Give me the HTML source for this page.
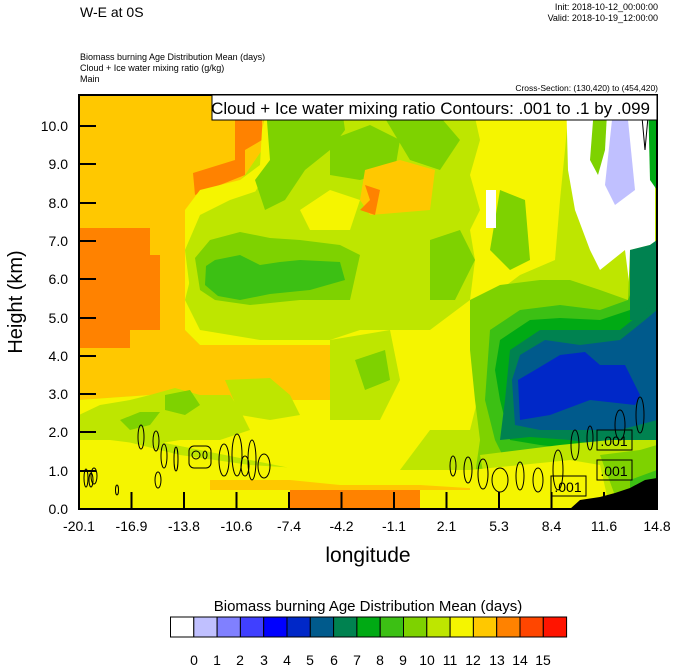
<!DOCTYPE html>
<html><head><meta charset="utf-8"><style>
body{margin:0;background:#fff;width:674px;height:667px;overflow:hidden}
svg{display:block;font-family:"Liberation Sans",sans-serif}
</style></head><body>
<svg width="674" height="667" viewBox="0 0 674 667">
<defs><clipPath id="c"><rect x="79" y="95" width="578" height="414"/></clipPath></defs>
<text x="80" y="17" font-size="14">W-E at 0S</text>
<text x="658" y="10" font-size="9" text-anchor="end">Init: 2018-10-12_00:00:00</text>
<text x="658" y="21" font-size="9" text-anchor="end">Valid: 2018-10-19_12:00:00</text>
<text x="80" y="60" font-size="9">Biomass burning Age Distribution Mean    (days)</text>
<text x="80" y="71" font-size="9">Cloud + Ice water mixing ratio    (g/kg)</text>
<text x="80" y="82" font-size="9">Main</text>
<text x="658" y="91" font-size="8.5" text-anchor="end">Cross-Section: (130,420) to (454,420)</text>
<g clip-path="url(#c)">
<rect x="79" y="95" width="578" height="414" fill="#bee600"/>
<!-- left warm region -->
<polygon points="79,95 265,95 262,150 245,175 220,200 190,210 185,250 185,330 200,345 330,345 330,400 240,400 200,395 150,395 79,400" fill="#ffc800"/>
<polygon points="79,228 150,228 150,255 160,255 160,330 130,330 130,348 79,348" fill="#ff8200"/>
<polygon points="235,95 262,95 262,140 245,150 245,175 195,195 193,173 235,160" fill="#ff8200"/>
<!-- yellow -->
<polygon points="185,210 200,190 240,180 260,165 262,130 270,95 280,95 275,160 250,200 215,225 190,240 195,260 185,300 200,330 260,340 330,340 360,330 430,330 470,300 475,260 470,230 480,210 470,175 480,140 470,95 570,95 565,150 560,200 555,260 520,275 500,290 480,320 480,390 470,430 430,430 400,470 300,470 250,460 200,450 150,440 120,430 79,430 79,400 150,395 200,395 240,400 330,400 330,345 200,345 185,330" fill="#f5f500"/>
<polygon points="79,430 79,509 570,509 560,470 470,470 420,470 330,470 250,465 180,455 120,440" fill="#f5f500"/>
<polygon points="210,490 555,490 555,470 510,470 500,490 420,485 340,485 290,480 210,480" fill="#ffc800"/>
<polygon points="290,490 420,490 420,509 290,509" fill="#ff8200"/>
<polygon points="79,490 200,490 200,509 79,509" fill="#f5f500"/>
<!-- lower left greens -->
<polygon points="79,415 100,405 130,400 150,395 175,388 200,395 230,395 240,410 250,430 220,440 180,440 150,445 110,440 90,440 79,440" fill="#bee600"/>
<polygon points="120,420 140,412 160,412 150,425 130,430" fill="#7ed200"/>
<polygon points="165,395 190,390 200,405 185,415 165,410" fill="#7ed200"/>
<polygon points="225,380 270,378 290,395 300,415 270,420 240,415" fill="#bee600"/>
<polygon points="330,340 390,330 400,380 380,420 330,420" fill="#bee600"/>
<!-- central green blob -->
<polygon points="185,250 200,215 230,200 260,190 300,205 340,215 370,230 395,250 380,320 340,330 300,330 250,322 210,310 190,290" fill="#bee600"/>
<polygon points="195,258 210,240 240,232 270,238 300,240 340,245 360,255 350,300 300,300 250,305 215,300 200,290" fill="#7ed200"/>
<polygon points="206,266 215,260 240,255 260,265 280,262 300,260 340,262 345,280 310,290 270,294 240,300 218,296 205,285" fill="#3cc014"/>
<!-- upper green -->
<polygon points="265,95 340,95 345,130 330,150 305,170 285,200 265,210 255,180 270,160" fill="#7ed200"/>
<polygon points="330,140 370,125 400,140 395,170 360,180 330,175" fill="#7ed200"/>
<polygon points="380,110 430,105 460,140 440,170 410,160" fill="#7ed200"/>
<polygon points="365,170 400,160 435,170 430,210 370,215 360,200" fill="#ffc800"/>
<polygon points="360,210 370,200 365,185 380,190 375,215" fill="#ff8200"/>
<polygon points="300,210 330,190 360,200 350,230 310,230" fill="#f5f500"/>
<polygon points="430,240 460,230 475,260 455,300 430,300" fill="#7ed200"/>
<polygon points="500,190 525,200 530,260 510,270 490,250" fill="#7ed200"/>
<polygon points="355,360 385,350 390,380 365,390" fill="#7ed200"/>
<rect x="486" y="190" width="10" height="38" fill="#fff"/>
<!-- top right -->
<polygon points="566,95 655,95 655,300 630,290 625,250 600,270 590,250 575,210 568,170" fill="#fff"/>
<polygon points="595,95 608,95 605,150 598,175 590,160" fill="#7ed200"/>
<polygon points="612,120 628,120 635,190 615,205 605,185" fill="#c0c0ff"/>
<polygon points="648,95 657,95 657,190 650,180" fill="#00aa14"/>
<!-- right deep region -->
<polygon points="470,300 500,285 540,280 570,280 600,290 628,300 630,250 650,245 657,240 657,509 470,509 480,440 475,400 470,350" fill="#7ed200"/>
<polygon points="490,330 520,310 560,305 600,310 628,300 640,270 657,260 657,509 500,509 505,460 495,440 485,400" fill="#3cc014"/>
<polygon points="500,340 530,320 560,318 600,320 630,310 657,300 657,450 630,455 580,450 540,445 510,440 500,400 495,370" fill="#00aa14"/>
<polygon points="630,250 650,245 657,240 657,320 630,320" fill="#008250"/>
<polygon points="510,350 540,330 580,330 620,330 645,310 657,300 657,440 620,448 570,440 530,437 500,440 505,400" fill="#008250"/>
<polygon points="520,355 545,340 580,345 620,340 645,320 657,310 657,420 620,430 580,430 540,430 515,425 512,380" fill="#005a8c"/>
<polygon points="535,370 560,355 585,352 600,365 625,365 640,395 635,405 590,400 550,415 520,420 518,380" fill="#0028c8"/>
<polygon points="480,455 560,445 610,440 657,440 657,509 490,509" fill="#bee600"/>
<polygon points="470,470 570,460 600,465 610,509 470,509" fill="#f5f500"/>
<polygon points="600,455 640,450 657,445 657,509 620,509" fill="#7ed200"/>
<polygon points="630,480 657,470 657,509 630,509" fill="#3cc014"/>
<polygon points="570,509 580,500 600,497 615,493 630,488 645,480 657,478 657,509" fill="#000"/>
</g>
<!-- contours -->
<g fill="none" stroke="#000" stroke-width="1">
<ellipse cx="141" cy="437" rx="3" ry="12"/><ellipse cx="156" cy="441" rx="3" ry="10"/>
<ellipse cx="164" cy="456" rx="3" ry="12"/><ellipse cx="158" cy="480" rx="3" ry="8"/>
<ellipse cx="176" cy="459" rx="2" ry="12"/><rect x="189" y="446" width="22" height="22" rx="5"/>
<ellipse cx="196" cy="455" rx="4" ry="4"/><ellipse cx="205" cy="455" rx="2" ry="4"/>
<ellipse cx="224" cy="460" rx="5" ry="16"/><ellipse cx="237" cy="455" rx="5" ry="21"/>
<ellipse cx="245" cy="466" rx="4" ry="10"/><ellipse cx="252" cy="460" rx="4" ry="20"/>
<ellipse cx="264" cy="466" rx="6" ry="12"/><ellipse cx="86" cy="478" rx="2" ry="9"/><ellipse cx="94" cy="476" rx="3" ry="8"/>
<ellipse cx="117" cy="490" rx="1.5" ry="5"/><ellipse cx="91" cy="480" rx="2" ry="7"/>
<ellipse cx="453" cy="466" rx="3" ry="10"/><ellipse cx="468" cy="470" rx="4" ry="13"/>
<ellipse cx="483" cy="474" rx="5" ry="15"/><ellipse cx="500" cy="480" rx="8" ry="12"/>
<ellipse cx="520" cy="476" rx="4" ry="14"/><ellipse cx="538" cy="480" rx="5" ry="12"/>
<ellipse cx="558" cy="470" rx="5" ry="20"/><ellipse cx="575" cy="445" rx="4" ry="15"/>
<ellipse cx="590" cy="438" rx="3" ry="12"/><ellipse cx="620" cy="425" rx="5" ry="15"/>
<ellipse cx="640" cy="415" rx="4" ry="18"/><path d="M640 95 L645 150 L650 95"/>
</g>
<g font-size="14" text-anchor="middle">
<rect x="597" y="430" width="35" height="20" fill="none" stroke="#000"/><text x="614" y="446">.001</text>
<rect x="597" y="460" width="35" height="20" fill="none" stroke="#000"/><text x="614" y="476">.001</text>
<rect x="551" y="476" width="35" height="20" fill="none" stroke="#000"/><text x="568" y="492">.001</text>
</g>
<rect x="79" y="95" width="578" height="414" fill="none" stroke="#000" stroke-width="2"/>
<rect x="212" y="95" width="445" height="25" fill="#fff" stroke="#000" stroke-width="1"/>
<text x="650" y="114" font-size="17" text-anchor="end">Cloud + Ice water mixing ratio Contours: .001 to .1 by .099</text>
<g stroke="#000" stroke-width="2">
<line x1="79" y1="509" x2="96" y2="509"/><line x1="79" y1="471" x2="96" y2="471"/><line x1="79" y1="432" x2="96" y2="432"/><line x1="79" y1="394" x2="96" y2="394"/><line x1="79" y1="356" x2="96" y2="356"/><line x1="79" y1="318" x2="96" y2="318"/><line x1="79" y1="279" x2="96" y2="279"/><line x1="79" y1="241" x2="96" y2="241"/><line x1="79" y1="203" x2="96" y2="203"/><line x1="79" y1="164" x2="96" y2="164"/><line x1="79" y1="126" x2="96" y2="126"/>
<line x1="131.5" y1="509" x2="131.5" y2="492"/><line x1="184" y1="509" x2="184" y2="492"/><line x1="236.5" y1="509" x2="236.5" y2="492"/><line x1="289" y1="509" x2="289" y2="492"/><line x1="341.5" y1="509" x2="341.5" y2="492"/><line x1="394" y1="509" x2="394" y2="492"/><line x1="446.5" y1="509" x2="446.5" y2="492"/><line x1="499" y1="509" x2="499" y2="492"/><line x1="551.5" y1="509" x2="551.5" y2="492"/><line x1="604" y1="509" x2="604" y2="492"/>
</g>
<g font-size="14" text-anchor="end">
<text x="68" y="514">0.0</text><text x="68" y="476">1.0</text><text x="68" y="437">2.0</text><text x="68" y="399">3.0</text><text x="68" y="361">4.0</text><text x="68" y="323">5.0</text><text x="68" y="284">6.0</text><text x="68" y="246">7.0</text><text x="68" y="208">8.0</text><text x="68" y="169">9.0</text><text x="68" y="131">10.0</text>
</g>
<g font-size="14" text-anchor="middle">
<text x="79" y="531">-20.1</text><text x="131.5" y="531">-16.9</text><text x="184" y="531">-13.8</text><text x="236.5" y="531">-10.6</text><text x="289" y="531">-7.4</text><text x="341.5" y="531">-4.2</text><text x="394" y="531">-1.1</text><text x="446.5" y="531">2.1</text><text x="499" y="531">5.3</text><text x="551.5" y="531">8.4</text><text x="604" y="531">11.6</text><text x="657" y="531">14.8</text>
</g>
<text x="368" y="562" font-size="21" text-anchor="middle">longitude</text>
<text transform="translate(22,302) rotate(-90)" font-size="20" text-anchor="middle">Height (km)</text>
<text x="368" y="611" font-size="15" text-anchor="middle">Biomass burning Age Distribution Mean  (days)</text>
<g stroke="#000" stroke-width="1">
<rect x="170.5" y="617" width="23.3" height="20" fill="#ffffff"/>
<rect x="193.8" y="617" width="23.3" height="20" fill="#c0c0ff"/>
<rect x="217.1" y="617" width="23.3" height="20" fill="#8080ff"/>
<rect x="240.4" y="617" width="23.3" height="20" fill="#4040ff"/>
<rect x="263.7" y="617" width="23.3" height="20" fill="#0000ff"/>
<rect x="287" y="617" width="23.3" height="20" fill="#0028c8"/>
<rect x="310.3" y="617" width="23.3" height="20" fill="#005a8c"/>
<rect x="333.6" y="617" width="23.3" height="20" fill="#008250"/>
<rect x="356.9" y="617" width="23.3" height="20" fill="#00aa14"/>
<rect x="380.2" y="617" width="23.3" height="20" fill="#3cc014"/>
<rect x="403.5" y="617" width="23.3" height="20" fill="#7ed200"/>
<rect x="426.8" y="617" width="23.3" height="20" fill="#bee600"/>
<rect x="450.1" y="617" width="23.3" height="20" fill="#f5f500"/>
<rect x="473.4" y="617" width="23.3" height="20" fill="#ffc800"/>
<rect x="496.7" y="617" width="23.3" height="20" fill="#ff8200"/>
<rect x="520" y="617" width="23.3" height="20" fill="#ff4600"/>
<rect x="543.3" y="617" width="23.3" height="20" fill="#ff1400"/>
</g>
<g font-size="14" text-anchor="middle">
<text x="194" y="665">0</text><text x="217" y="665">1</text><text x="240" y="665">2</text><text x="264" y="665">3</text><text x="287" y="665">4</text><text x="310" y="665">5</text><text x="334" y="665">6</text><text x="357" y="665">7</text><text x="380" y="665">8</text><text x="403" y="665">9</text><text x="427" y="665">10</text><text x="450" y="665">11</text><text x="473" y="665">12</text><text x="497" y="665">13</text><text x="520" y="665">14</text><text x="543" y="665">15</text>
</g>
</svg>
</body></html>
